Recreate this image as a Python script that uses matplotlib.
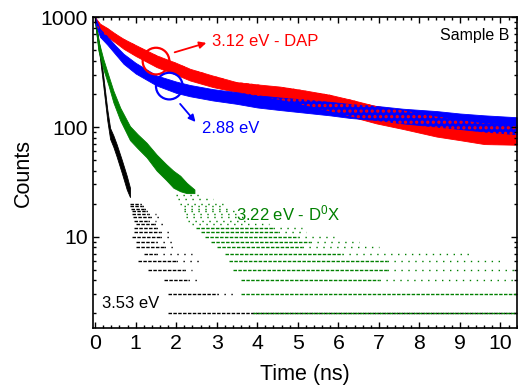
import matplotlib
matplotlib.use('Agg')
import matplotlib.pyplot as plt
from matplotlib.patches import Ellipse
from matplotlib.ticker import LogLocator, MultipleLocator, NullFormatter, FuncFormatter

plt.rcParams.update({
    "font.family": ["Liberation Sans", "DejaVu Sans"],
    "mathtext.default": "regular",
    "hatch.linewidth": 1.5,
})

# dense part of the decays: time (ns), lower / upper edge of the dots
t_rb = [0, 0.12, 0.3, 0.5, 0.7, 1.0, 1.52, 2.0, 2.34, 2.9, 3.49, 4.0, 4.56, 5.2, 5.79, 6.3, 6.94, 7.6, 8.42, 9.0, 9.6, 10.4]
red_hi = [1000, 877, 800, 710, 638, 560, 450, 385, 340, 295, 257, 245, 234, 215, 197, 178, 155, 142, 125, 116, 108, 105]
red_lo = [900, 740, 665, 590, 518, 445, 352, 300, 266, 232, 208, 192, 177, 157, 139, 125, 108, 96, 82, 76, 70, 69]
blue_hi = [1000, 780, 670, 555, 466, 385, 295, 260, 242, 222, 208, 195, 186, 178, 170, 162, 156, 147, 140, 133, 128, 123]
blue_lo = [900, 665, 565, 462, 378, 308, 239, 205, 191, 175, 163, 151, 143, 135, 128, 121, 116, 108, 101, 96, 91, 86]

t_green = [0, 0.08, 0.2, 0.33, 0.45, 0.62, 0.86, 1.05, 1.27, 1.52, 1.75, 1.93, 2.1, 2.26, 2.45]
green_hi = [1000, 620, 420, 295, 215, 150, 102, 86, 72, 56, 46, 40, 36, 31, 27]
green_lo = [900, 500, 340, 240, 168, 115, 76, 64, 53, 40, 33, 28, 26, 25, 25]

t_black = [0, 0.05, 0.12, 0.2, 0.3, 0.37, 0.45, 0.53, 0.66, 0.78, 0.86]
black_hi = [1000, 760, 510, 295, 145, 98, 84, 70, 50, 36, 28]
black_lo = [900, 640, 425, 240, 115, 78, 66, 54, 38, 27, 23]

# low-count tail: integer count levels, where dots start, where they thin out, where they stop
green_levels = [24, 22, 20, 19, 18, 17, 16, 15, 14, 13, 12, 11, 10, 9, 8, 7, 6, 5, 4, 3, 2]
green_start = [2.0, 2.05, 2.1, 2.2, 2.2, 2.2, 2.25, 2.25, 2.3, 2.4, 2.5, 2.6, 2.7, 2.85, 3.0, 3.2, 3.3, 3.4, 3.6, 3.6, 3.9]
green_dense = [2.0, 2.05, 2.1, 2.2, 2.2, 2.2, 2.25, 2.25, 2.3, 2.4, 4.4, 4.5, 5.0, 5.3, 5.1, 6.1, 7.2, 7.2, 7.0, 10.4, 10.4]
green_end = [2.6, 2.9, 3.15, 3.2, 3.3, 3.5, 3.55, 3.7, 3.8, 4.3, 5.1, 5.2, 5.9, 6.5, 7.0, 9.3, 10.1, 10.4, 10.4, 10.4, 10.4]

black_levels = [20, 19, 18, 17, 16, 15, 14, 13, 12, 11, 10, 9, 8, 7, 6, 5, 4, 3, 2]
black_start = [0.85, 0.86, 0.88, 0.9, 0.9, 0.93, 0.95, 1.0, 0.95, 0.95, 0.9, 1.0, 1.0, 1.2, 1.05, 1.3, 1.7, 1.8, 1.8]
black_dense = [1.1, 1.15, 1.2, 1.25, 1.3, 1.35, 1.3, 1.45, 1.5, 1.6, 1.6, 1.5, 1.7, 1.5, 2.0, 2.2, 2.3, 3.0, 10.4]
black_end = [1.2, 1.25, 1.35, 1.4, 1.5, 1.6, 1.5, 1.75, 1.6, 1.9, 1.85, 1.9, 1.97, 2.4, 2.6, 2.4, 2.6, 3.4, 10.4]

fig = plt.figure(figsize=(5.18, 3.92), dpi=100)
ax = fig.add_axes([0.1805, 0.163, 0.817, 0.7926])


def draw_rows(levels, start, dense, end, color):
    for lv, a, b, c in zip(levels, start, dense, end):
        if b > a:
            ax.hlines(lv, a, b, color=color, lw=1.0, linestyles=(0, (2.5, 1)))
        if c > b:
            ax.hlines(lv, b, c, color=color, lw=1.0, linestyles=(0, (1, 4)))


draw_rows(black_levels, black_start, black_dense, black_end, 'black')
ax.fill_between(t_black, black_lo, black_hi, color='black', lw=0.6)
draw_rows(green_levels, green_start, green_dense, green_end, 'green')
ax.fill_between(t_green, green_lo, green_hi, color='green', lw=0.6)
ax.fill_between(t_rb, red_lo, red_hi, color='red', lw=0.6)
ax.fill_between(t_rb, blue_lo, blue_hi, color='blue', lw=0.6)
# red dots showing through where the two bands overlap
ax.fill_between(t_rb, red_lo, red_hi, facecolor='none', edgecolor='red', hatch='...', lw=0)

ax.set_yscale('log')
ax.set_xlim(-0.04, 10.4)
ax.set_ylim(1.47, 1000)
ax.xaxis.set_major_locator(MultipleLocator(1))
ax.xaxis.set_minor_locator(MultipleLocator(0.2))
ax.yaxis.set_major_locator(LogLocator(base=10))
ax.yaxis.set_minor_locator(LogLocator(base=10, subs=range(2, 10)))
ax.yaxis.set_minor_formatter(NullFormatter())
ax.yaxis.set_major_formatter(FuncFormatter(lambda v, p: f"{v:g}"))
ax.tick_params(which='both', direction='in', top=True, right=True, labelsize=15.3, width=1)
ax.tick_params(which='major', length=4.5, pad=4)
ax.tick_params(which='minor', length=2.5)
for s in ax.spines.values():
    s.set_linewidth(1.2)

ax.set_xlabel('Time (ns)', fontsize=15.5, labelpad=8)
ax.set_ylabel('Counts', fontsize=15.5, labelpad=5)

# markers and labels
ax.add_patch(Ellipse((0.1477, 0.8594), 0.063, 0.0858, transform=ax.transAxes,
                     fill=False, ec='red', lw=1.6))
ax.add_patch(Ellipse((0.1791, 0.7789), 0.063, 0.0858, transform=ax.transAxes,
                     fill=False, ec='blue', lw=1.6))
ax.annotate('', xy=(0.2729, 0.9205), xytext=(0.1855, 0.8851), xycoords='axes fraction',
            arrowprops=dict(arrowstyle='-|>', color='red', lw=1.3, mutation_scale=10))
ax.annotate('', xy=(0.2453, 0.6566), xytext=(0.2004, 0.7284), xycoords='axes fraction',
            arrowprops=dict(arrowstyle='-|>', color='blue', lw=1.3, mutation_scale=10))
ax.text(0.2797, 0.9215, '3.12 eV - DAP', color='red', fontsize=12, va='center', transform=ax.transAxes)
ax.text(0.2557, 0.6427, '2.88 eV', color='blue', fontsize=12, va='center', transform=ax.transAxes)
ax.text(0.3367, 0.3701, '3.22 eV - D$^0$X', color='green', fontsize=12, va='center', transform=ax.transAxes)
ax.text(0.9818, 0.943, 'Sample B', color='black', fontsize=11.5, va='center', ha='right', transform=ax.transAxes)
ax.text(0.0194, 0.080, '3.53 eV', color='black', fontsize=12, va='center', transform=ax.transAxes)

fig.savefig('out.png', dpi=100)
